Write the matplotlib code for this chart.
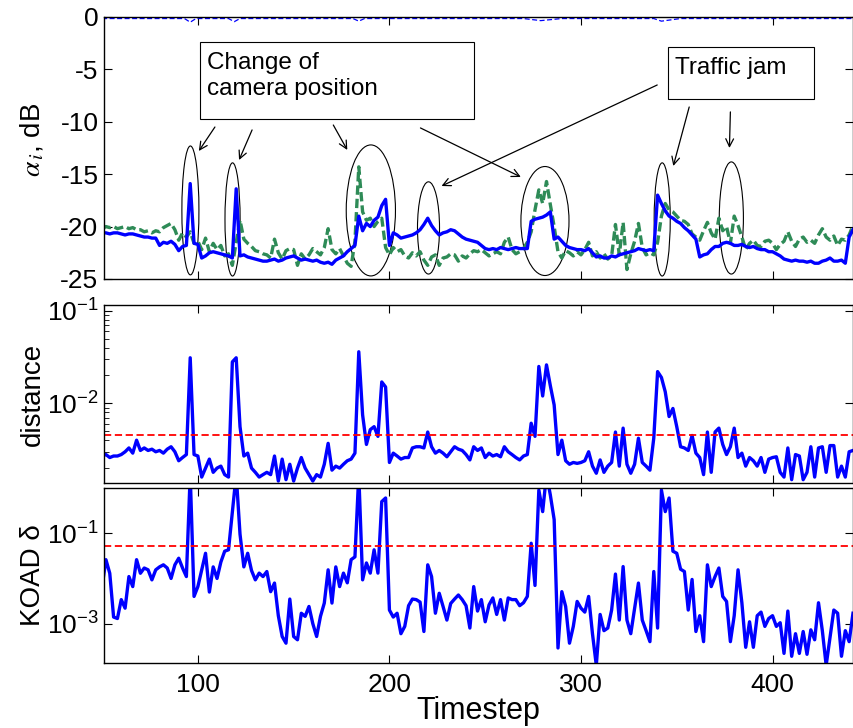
import numpy as np
import matplotlib
matplotlib.use('Agg')
import matplotlib.pyplot as plt
from matplotlib.patches import Ellipse, Rectangle
from matplotlib.ticker import LogLocator, NullLocator, FixedLocator

plt.rcParams['font.family'] = ['Liberation Sans', 'DejaVu Sans']
plt.rcParams['axes.unicode_minus'] = False
plt.rcParams['mathtext.fontset'] = 'stix'

# timesteps (every 2nd step)
t = np.arange(50, 443, 2)

# top panel: alpha_i in dB
alpha_blue = [
    -20.6, -20.6, -20.7, -20.6, -20.6, -20.7, -20.8, -20.7, -20.7, -20.8,
    -20.9, -21.0, -21.0, -21.1, -21.1, -21.8, -21.5, -21.6, -21.4, -21.7,
    -22.3, -21.9, -21.8, -15.9, -21.6, -21.7, -23.0, -22.8, -22.5, -22.4,
    -22.5, -22.6, -22.7, -22.8, -23.0, -16.4, -22.8, -22.7, -22.9, -23.0,
    -23.1, -23.2, -23.3, -23.3, -23.2, -23.1, -23.3, -23.2, -23.0, -22.9,
    -22.8, -23.0, -23.2, -23.1, -23.2, -23.3, -23.2, -23.4, -23.5, -23.4,
    -23.6, -23.2, -23.0, -22.8, -22.4, -22.1, -21.8, -19.0, -20.4, -19.7,
    -20.0, -19.4, -19.1, -18.0, -17.4, -21.8, -20.6, -20.8, -21.1, -21.0,
    -20.9, -20.8, -20.6, -20.3, -19.8, -19.2, -19.9, -20.4, -20.8, -20.6,
    -20.5, -20.3, -20.4, -20.7, -21.0, -21.2, -21.3, -21.4, -21.5, -21.8,
    -22.1, -22.2, -22.1, -22.2, -22.0, -22.1, -22.2, -22.1, -22.0, -22.1,
    -22.1, -22.1, -19.5, -19.3, -19.2, -19.1, -18.9, -18.6, -21.2, -21.0,
    -21.4, -21.8, -22.0, -22.1, -22.2, -22.2, -22.3, -22.1, -22.5, -22.9,
    -22.8, -23.0, -23.0, -22.8, -22.9, -22.7, -22.6, -22.5, -22.4, -22.3,
    -22.1, -22.2, -22.3, -22.2, -22.3, -17.0, -17.8, -18.5, -19.0, -19.2,
    -19.5, -19.7, -20.1, -20.4, -20.8, -21.2, -22.9, -22.7, -22.6, -22.2,
    -21.9, -21.9, -21.6, -21.5, -21.6, -21.8, -21.8, -21.7, -21.9, -22.0,
    -21.9, -22.1, -22.2, -22.2, -22.4, -22.4, -22.6, -22.8, -23.1, -23.2,
    -23.3, -23.2, -23.3, -23.3, -23.4, -23.3, -23.5, -23.5, -23.3, -23.2,
    -23.0, -23.3, -23.3, -23.2, -23.5, -21.0, -20.3]

alpha_green = [
    -20.2, -20.0, -20.1, -20.0, -20.2, -20.1, -20.0, -20.2, -20.1, -20.3,
    -20.3, -20.5, -20.4, -20.6, -20.4, -20.5, -20.1, -19.9, -19.7, -20.3,
    -21.3, -20.6, -21.0, -20.5, -21.6, -21.4, -22.2, -21.1, -22.4, -21.6,
    -22.2, -21.8, -22.8, -22.6, -23.7, -21.5, -19.4, -21.2, -21.6, -21.9,
    -22.3, -22.4, -22.6, -22.7, -23.0, -21.2, -22.5, -23.1, -22.3, -22.1,
    -22.2, -23.7, -22.6, -23.1, -22.7, -22.1, -22.4, -22.7, -22.0, -20.2,
    -22.2, -22.6, -22.1, -22.8, -23.5, -23.8, -21.4, -14.3, -18.6, -19.4,
    -19.2, -20.0, -19.5, -19.2, -22.0, -22.7, -22.0, -22.4, -22.2, -22.8,
    -23.0, -22.5, -22.8, -22.4, -23.2, -23.7, -22.9, -22.7, -23.7, -23.0,
    -22.9, -22.6, -22.7, -23.3, -22.8, -23.0, -22.6, -22.3, -22.4, -22.2,
    -22.5, -22.8, -22.6, -22.4, -22.6, -21.5, -21.0, -22.2, -22.6, -22.4,
    -22.1, -21.5, -20.5, -18.4, -16.5, -17.8, -15.7, -17.9, -20.0, -22.4,
    -23.0, -22.3, -22.5, -22.8, -22.4, -22.7, -22.2, -21.5, -22.8, -22.4,
    -23.0, -22.6, -23.1, -22.8, -19.8, -22.7, -19.6, -24.1, -22.6, -21.4,
    -19.7, -22.0, -22.7, -22.5, -22.7, -21.5, -19.0, -17.8, -18.4, -18.6,
    -19.0, -19.4, -19.5, -19.8, -20.7, -21.0, -21.3, -20.4, -19.6, -20.6,
    -21.2, -19.2, -20.4, -20.0, -21.6, -19.0, -19.9, -21.0, -22.2, -21.6,
    -21.3, -21.8, -21.9, -21.4, -21.3, -21.6, -22.2, -21.7, -21.4, -20.5,
    -21.4, -21.9, -21.2, -21.0, -21.5, -21.3, -21.6, -20.8, -20.2, -21.0,
    -21.3, -20.9, -21.8, -21.2, -21.3, -20.8, -19.9]

# reference level near 0 dB (thin dashed)
ref_t = [50, 93, 96, 99, 116, 119, 122, 181, 184, 187, 270, 279, 290, 338, 342, 352, 442]
ref_val = [-0.15, -0.15, -0.5, -0.15, -0.15, -0.45, -0.15, -0.15, -0.4, -0.15,
           -0.15, -0.35, -0.15, -0.15, -0.4, -0.15, -0.15]

# middle panel: distance (in units of 1e-3)
distance_e3 = [
    2.7, 2.8, 2.6, 2.7, 2.7, 2.8, 3.0, 3.3, 2.9, 4.0,
    3.1, 3.3, 3.1, 3.2, 3.0, 3.1, 2.9, 3.2, 3.4, 3.0,
    2.4, 2.6, 2.8, 31.0, 2.8, 2.7, 1.6, 2.0, 2.5, 1.8,
    2.0, 2.1, 1.7, 1.6, 28.0, 31.0, 5.6, 2.7, 2.9, 2.0,
    1.8, 1.6, 1.7, 1.8, 1.7, 2.7, 1.45, 2.5, 1.5, 2.2,
    1.45, 2.0, 2.6, 2.0, 1.7, 1.45, 1.7, 1.6, 2.2, 3.7,
    1.9, 2.1, 2.0, 2.2, 2.4, 2.5, 2.9, 36.0, 7.5, 3.6,
    5.2, 5.6, 4.4, 17.0, 15.0, 2.3, 2.9, 2.7, 2.5, 2.6,
    2.6, 3.3, 3.4, 3.4, 3.3, 4.9, 3.4, 2.9, 3.1, 2.9,
    2.65, 3.0, 3.4, 3.2, 3.1, 2.8, 2.45, 3.4, 3.1, 3.3,
    2.6, 2.9, 2.7, 2.8, 2.65, 3.4, 3.0, 2.8, 2.6, 2.45,
    2.7, 2.8, 6.1, 4.4, 25.0, 12.0, 26.0, 15.5, 9.6, 2.8,
    4.0, 2.4, 2.2, 2.3, 2.25, 2.3, 2.4, 3.0, 2.1, 1.76,
    2.45, 1.8, 2.1, 2.3, 4.9, 2.1, 5.4, 2.2, 1.76, 2.2,
    4.2, 2.3, 2.1, 1.9, 4.2, 22.0, 19.0, 13.3, 7.2, 8.8,
    5.6, 3.4, 3.3, 3.1, 4.5, 2.9, 2.6, 1.7, 4.9, 1.8,
    4.9, 5.4, 3.6, 2.8, 3.4, 5.4, 2.6, 2.9, 2.1, 2.6,
    2.4, 2.1, 2.6, 1.8, 2.5, 2.6, 2.65, 1.8, 1.6, 3.3,
    1.5, 2.8, 2.7, 1.5, 1.8, 3.4, 1.6, 3.3, 3.4, 1.8,
    3.5, 3.5, 1.6, 2.1, 1.6, 3.0, 3.1]
distance_thr = 4.55e-3

# bottom panel: KOAD delta
koad = [
    0.0066, 0.026, 0.013, 0.0014, 0.0013, 0.0034, 0.0022, 0.011, 0.0066, 0.026,
    0.013, 0.017, 0.0155, 0.0093, 0.0155, 0.018, 0.020, 0.017, 0.010, 0.020,
    0.028, 0.017, 0.011, 2.0, 0.0040, 0.0066, 0.0155, 0.036, 0.0050, 0.018,
    0.010, 0.023, 0.040, 0.043, 0.3, 2.0, 0.095, 0.018, 0.036, 0.015,
    0.0093, 0.0131, 0.011, 0.0142, 0.0051, 0.0079, 0.0015, 0.00052, 0.00037, 0.0035,
    0.00052, 0.00044, 0.0017, 0.00145, 0.0024, 0.001, 0.00052, 0.00145, 0.00285, 0.0155,
    0.00285, 0.018, 0.0066, 0.0131, 0.008, 0.026, 0.03, 2.0, 0.0093, 0.022,
    0.0131, 0.043, 0.0131, 0.5, 0.6, 0.002, 0.0014, 0.0017, 0.0006, 0.00087,
    0.0025, 0.0035, 0.0034, 0.0030, 0.00067, 0.02, 0.011, 0.0017, 0.0047, 0.0024,
    0.0012, 0.0028, 0.0035, 0.0043, 0.0034, 0.0025, 0.0008, 0.0066, 0.0019, 0.0034,
    0.0011, 0.0026, 0.0037, 0.0016, 0.0034, 0.0012, 0.0037, 0.0034, 0.0034, 0.0025,
    0.0029, 0.0040, 0.06, 0.007, 0.9, 0.3, 2.0, 0.7, 0.2, 0.00029,
    0.0051, 0.0024, 0.00037, 0.00087, 0.0031, 0.0022, 0.0018, 0.004, 0.0006, 0.00012,
    0.0016, 0.0007, 0.0008, 0.002, 0.0125, 0.0012, 0.0183, 0.0012, 0.0006, 0.0022,
    0.0079, 0.0012, 0.0007, 0.0004, 0.0142, 0.0008, 0.9, 0.3, 0.6, 0.04,
    0.036, 0.016, 0.0142, 0.002, 0.0095, 0.00067, 0.0015, 0.0004, 0.02, 0.0066,
    0.011, 0.017, 0.004, 0.0031, 0.0004, 0.0015, 0.0155, 0.0029, 0.0003, 0.0011,
    0.0003, 0.0015, 0.0018, 0.00087, 0.0013, 0.0015, 0.00087, 0.00105, 0.00022, 0.0019,
    0.00019, 0.0006, 0.00022, 0.00067, 0.00021, 0.00073, 0.00044, 0.0029, 0.0007, 0.00012,
    0.0005, 0.002, 0.0017, 0.00019, 0.0007, 0.0004, 0.0017]
koad_thr = 0.0516

# annotations (data coords of top panel)
ellipses = [(96.1, -18.46, 8.9, 12.3), (118.1, -19.32, 7.9, 10.8),
            (190.3, -18.46, 25.7, 12.5), (220.4, -20.13, 11.5, 8.8),
            (281.2, -19.47, 25.1, 10.4), (342.4, -19.32, 8.4, 10.8),
            (378.5, -19.18, 12.6, 10.7)]
cam_arrows = [((108.9, -10.50), (100.5, -12.79)), ((128.3, -10.78), (121.5, -13.65)),
              ((170.7, -10.31), (178.0, -12.69)), ((216.2, -10.59), (268.6, -15.27))]
jam_arrows = [((339.8, -6.49), (227.2, -16.13)), ((356.5, -8.59), (348.2, -14.22)),
              ((378.0, -9.06), (377.5, -12.50))]

fig = plt.figure(figsize=(8.54, 7.28), dpi=100)
ax1 = fig.add_axes([0.1218, 0.6168, 0.8770, 0.3599])
ax2 = fig.add_axes([0.1218, 0.3365, 0.8770, 0.2445], sharex=ax1)
ax3 = fig.add_axes([0.1218, 0.0893, 0.8770, 0.2404], sharex=ax1)

# top
ax1.plot(ref_t, ref_val, color='blue', lw=0.9, dashes=(4, 2))
ax1.plot(t, alpha_green, color='#2e8b57', lw=2.4, dashes=(2.8, 1.2))
ax1.plot(t, alpha_blue, color='blue', lw=2.4)
ax1.set_ylim(-25, 0)
ax1.set_yticks([0, -5, -10, -15, -20, -25])
ax1.set_ylabel(r'$\alpha_{\,i}$, dB', fontsize=20)

for cx, cy, w, h in ellipses:
    ax1.add_patch(Ellipse((cx, cy), w, h, fill=False, ec='black', lw=0.8))
for (x0, y0), (x1, y1) in cam_arrows + jam_arrows:
    ax1.annotate('', xy=(x1, y1), xytext=(x0, y0),
                 arrowprops=dict(arrowstyle='->', lw=0.9, color='black',
                                 shrinkA=0, shrinkB=0, mutation_scale=14))
ax1.add_patch(Rectangle((101.05, -9.73), 142.9, 7.34, fill=False, ec='black', lw=0.8))
ax1.text(104.7, -3.3, 'Change of\ncamera position', fontsize=17.5,
         ha='left', va='top', linespacing=1.25)
ax1.add_patch(Rectangle((345.5, -7.82), 76.0, 4.96, fill=False, ec='black', lw=0.8))
ax1.text(349.2, -3.85, 'Traffic jam', fontsize=17.5, ha='left', va='top')

# middle
ax2.plot(t, np.array(distance_e3) * 1e-3, color='blue', lw=2.4)
ax2.axhline(distance_thr, color='red', lw=1.3, dashes=(4, 2))
ax2.set_yscale('log')
ax2.set_ylim(1.38e-3, 0.115)
ax2.yaxis.set_major_locator(FixedLocator([1e-2, 1e-1]))
ax2.yaxis.set_minor_locator(LogLocator(base=10, subs=np.arange(2, 10)))
ax2.set_ylabel('distance', fontsize=20)

# bottom
ax3.plot(t, koad, color='blue', lw=2.4)
ax3.axhline(koad_thr, color='red', lw=1.3, dashes=(4, 2))
ax3.set_yscale('log')
ax3.set_ylim(1.35e-4, 1.0)
ax3.yaxis.set_major_locator(FixedLocator([1e-3, 1e-1]))
ax3.yaxis.set_minor_locator(NullLocator())
ax3.set_ylabel(u'KOAD \u03b4', fontsize=20)
ax3.set_xlabel('Timestep', fontsize=22, va='baseline')

ax1.set_xlim(51, 442)
ax1.set_xticks([100, 200, 300, 400])

for ax in (ax1, ax2, ax3):
    ax.tick_params(which='major', direction='in', top=True, right=True,
                   length=6, width=0.8, labelsize=19, pad=4)
    ax.tick_params(which='minor', direction='in', left=True, right=False,
                   length=3.5, width=0.6)
    for sp in ax.spines.values():
        sp.set_linewidth(1.0)
    ax.yaxis.set_label_coords(-0.077, 0.5)
ax1.yaxis.set_label_coords(-0.077, 0.53)
ax1.tick_params(labelbottom=False)
ax2.tick_params(labelbottom=False)
ax3.tick_params(axis='x', pad=7)
ax3.xaxis.set_label_coords(0.5, -0.32)

fig.savefig('out.png', dpi=100)
